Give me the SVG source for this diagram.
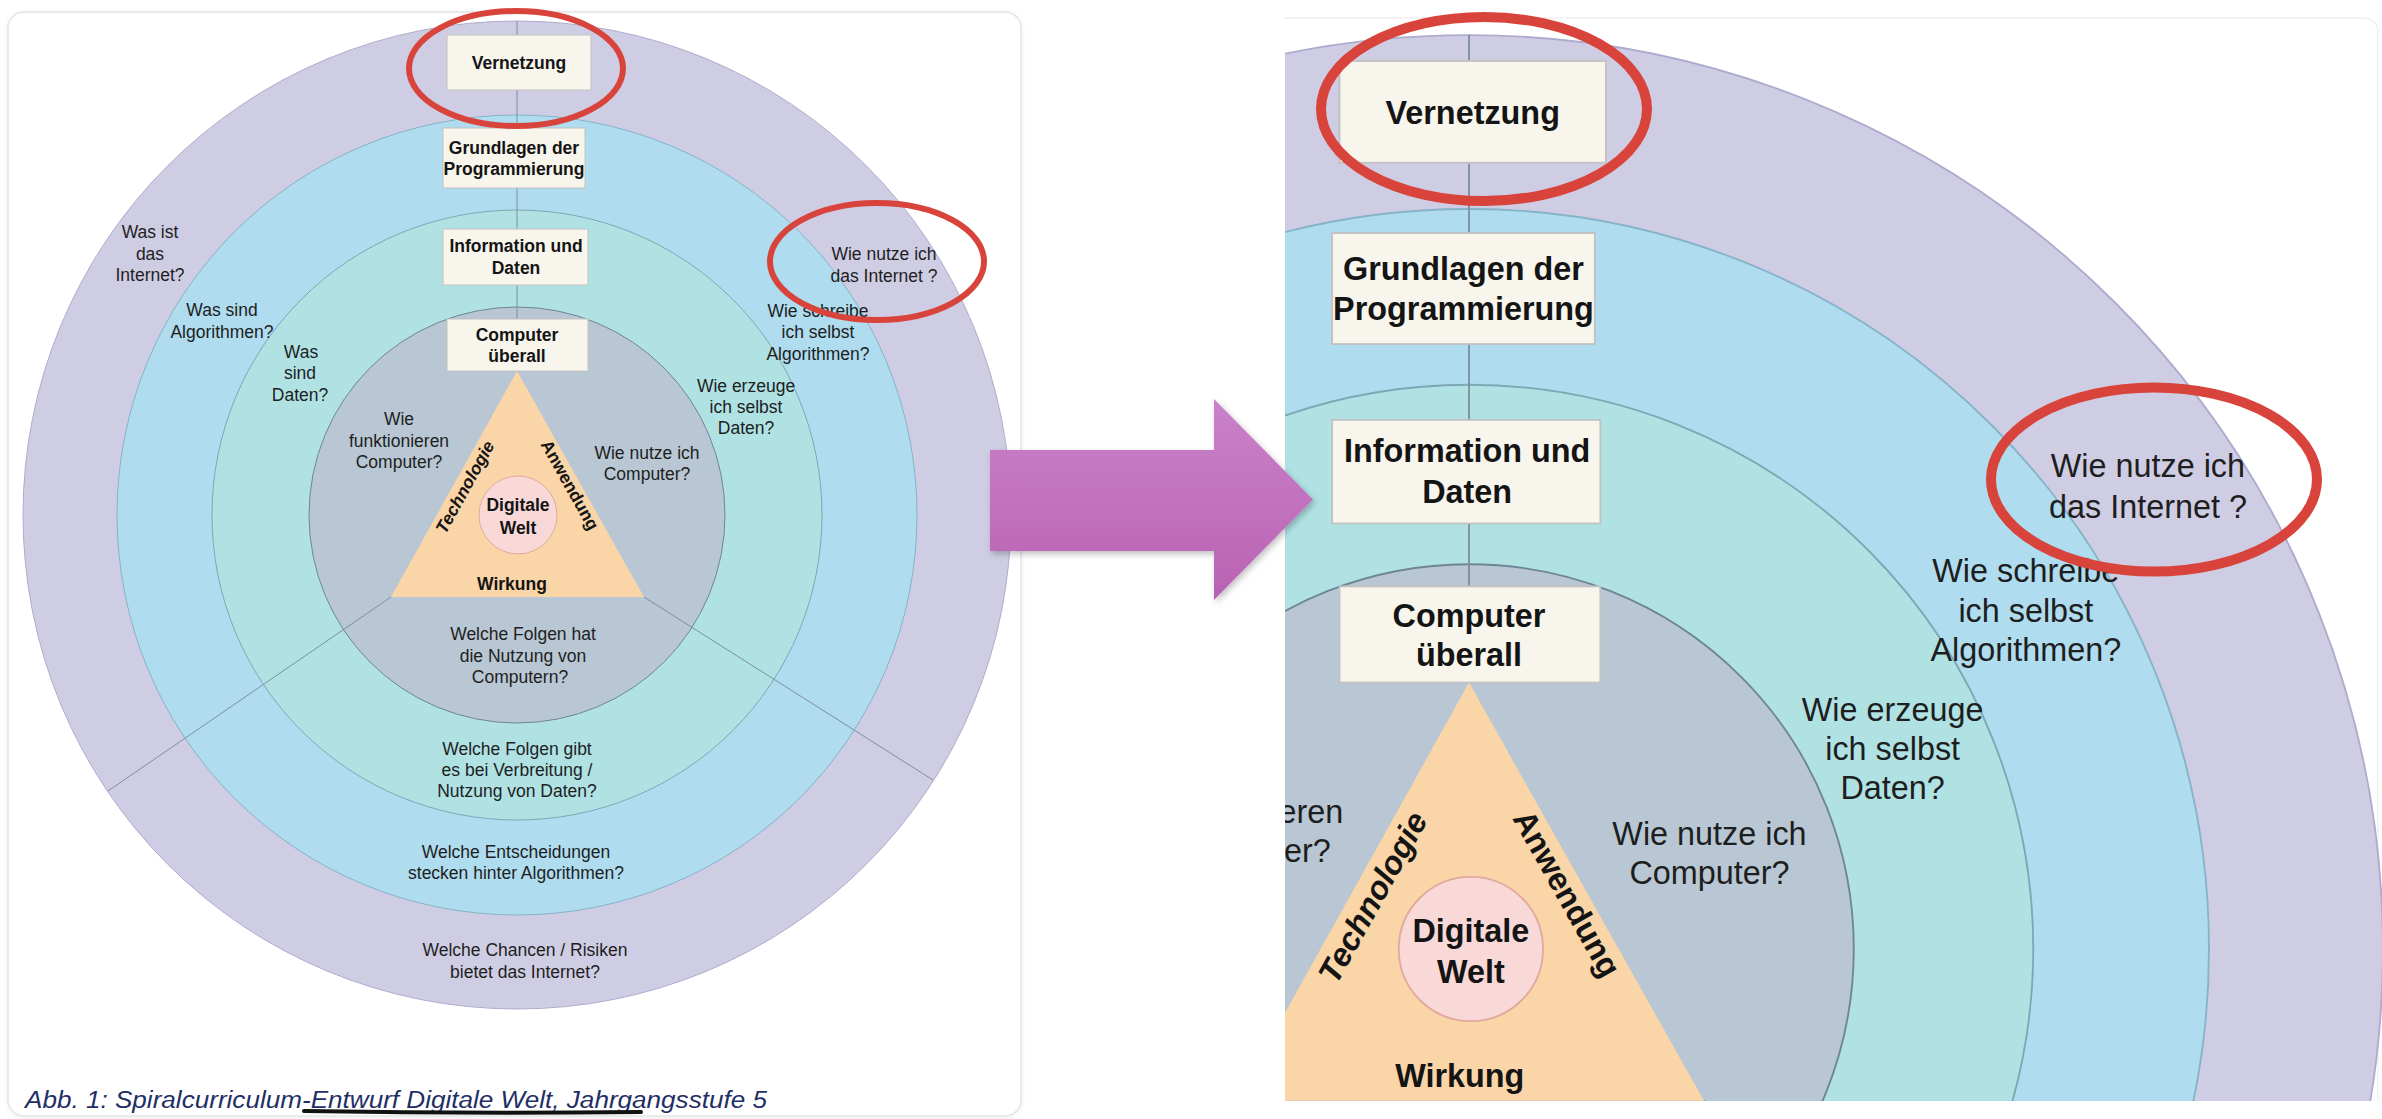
<svg xmlns="http://www.w3.org/2000/svg" xmlns:xlink="http://www.w3.org/1999/xlink" width="2382" height="1119" viewBox="0 0 2382 1119">
<style>
.lbl{font-family:"Liberation Sans",Arial,Helvetica,sans-serif;font-size:17.5px;font-weight:bold;text-anchor:middle;fill:#141414}
.q{font-family:"Liberation Sans",Arial,Helvetica,sans-serif;font-size:17.5px;text-anchor:middle;fill:#1e1e1e}
.box{fill:#f8f5ec;stroke:#c2c2c2;stroke-width:1}
.conn{stroke:#7f8ea2;stroke-width:1;fill:none}
.hl{fill:none;stroke:#d8443b}
.cap{font-family:"Liberation Sans",Arial,Helvetica,sans-serif;font-size:23px;font-style:italic;fill:#1f2f66}
</style>
<defs>
<linearGradient id="arrowGrad" x1="0" y1="0" x2="0" y2="1">
<stop offset="0" stop-color="#ca82c9"/>
<stop offset="1" stop-color="#b962b3"/>
</linearGradient>
<filter id="shadow" x="-10%" y="-10%" width="130%" height="130%">
<feDropShadow dx="2" dy="3" stdDeviation="3" flood-color="#000" flood-opacity="0.25"/>
</filter>
<filter id="cardShadow" x="-5%" y="-5%" width="110%" height="110%">
<feDropShadow dx="0" dy="1" stdDeviation="2" flood-color="#000" flood-opacity="0.08"/>
</filter>
<clipPath id="clipR"><rect x="1285" y="18" width="1097" height="1083"/></clipPath>
</defs>

<rect width="2382" height="1119" fill="#ffffff"/>

<!-- left card -->
<rect id="card-left" x="8" y="12" width="1013" height="1104" rx="16" fill="#ffffff" stroke="#e4e4e4" stroke-width="1.5" filter="url(#cardShadow)"/>
<!-- right card (faint top edge) -->
<path id="card-right" d="M1285,18 H2362 Q2378,18 2378,34 V1101" fill="none" stroke="#f0f0f0" stroke-width="1.5"/>

<g id="diag">
  <g id="ring-outer"><circle cx="517" cy="515" r="494" fill="#cfcde3" stroke="#aeaccd" stroke-width="1"/></g>
  <g id="ring-blue"><circle cx="517" cy="515" r="400" fill="#afdcee" stroke="#86b3c8" stroke-width="1"/></g>
  <g id="ring-teal"><circle cx="517" cy="515" r="305" fill="#b0e2e4" stroke="#7ea7b4" stroke-width="1"/></g>
  <g id="ring-gray"><circle cx="517" cy="515" r="208" fill="#b8c7d3" stroke="#6f8597" stroke-width="1"/></g>

  <g id="connectors">
    <line class="conn" x1="517" y1="21" x2="517" y2="319"/>
    <line class="conn" x1="391" y1="597" x2="108" y2="791"/>
    <line class="conn" x1="644" y1="597" x2="933" y2="780"/>
  </g>

  <g id="node-triangle">
    <polygon points="517,371 391,597 644,597" fill="#f9d5a7"/>
    <text class="lbl" transform="translate(465,487) rotate(-61)" x="0" y="6" font-style="italic">Technologie</text>
    <text class="lbl" transform="translate(570,485) rotate(60.7)" x="0" y="6">Anwendung</text>
    <text class="lbl" x="512" y="589.5">Wirkung</text>
  </g>
  <g id="node-digitale-welt">
    <circle cx="518" cy="515" r="39" fill="#f8d9d8" stroke="#e2a99e" stroke-width="1"/>
    <text class="lbl" x="518" y="511">Digitale</text>
    <text class="lbl" x="518" y="533.5">Welt</text>
  </g>

  <g id="node-vernetzung">
    <rect class="box" x="447" y="35" width="144" height="55"/>
    <text class="lbl" x="519" y="69">Vernetzung</text>
  </g>
  <g id="node-grundlagen">
    <rect class="box" x="443" y="128" width="142" height="60"/>
    <text class="lbl" x="514" y="153.5">Grundlagen der</text>
    <text class="lbl" x="514" y="175">Programmierung</text>
  </g>
  <g id="node-information">
    <rect class="box" x="443" y="229" width="145" height="56"/>
    <text class="lbl" x="516" y="252">Information und</text>
    <text class="lbl" x="516" y="274">Daten</text>
  </g>
  <g id="node-computer">
    <rect class="box" x="447" y="319" width="141" height="52"/>
    <text class="lbl" x="517" y="341">Computer</text>
    <text class="lbl" x="517" y="362">überall</text>
  </g>

  <g id="q-was-internet">
    <text class="q" x="150" y="238">Was ist</text>
    <text class="q" x="150" y="259.5">das</text>
    <text class="q" x="150" y="281">Internet?</text>
  </g>
  <g id="q-was-algorithmen">
    <text class="q" x="222" y="316">Was sind</text>
    <text class="q" x="222" y="338">Algorithmen?</text>
  </g>
  <g id="q-was-daten">
    <text class="q" x="301" y="358">Was</text>
    <text class="q" x="300" y="379">sind</text>
    <text class="q" x="300" y="400.5">Daten?</text>
  </g>
  <g id="q-wie-internet">
    <text class="q" x="884" y="260">Wie nutze ich</text>
    <text class="q" x="884" y="282">das Internet ?</text>
  </g>
  <g id="q-wie-algorithmen">
    <text class="q" x="818" y="316.5">Wie schreibe</text>
    <text class="q" x="818" y="338">ich selbst</text>
    <text class="q" x="818" y="359.5">Algorithmen?</text>
  </g>
  <g id="q-wie-daten">
    <text class="q" x="746" y="391.5">Wie erzeuge</text>
    <text class="q" x="746" y="413">ich selbst</text>
    <text class="q" x="746" y="434">Daten?</text>
  </g>
  <g id="q-wie-funktionieren">
    <text class="q" x="399" y="425">Wie</text>
    <text class="q" x="399" y="447">funktionieren</text>
    <text class="q" x="399" y="468">Computer?</text>
  </g>
  <g id="q-wie-computer">
    <text class="q" x="647" y="459">Wie nutze ich</text>
    <text class="q" x="647" y="480">Computer?</text>
  </g>
  <g id="q-folgen-computer">
    <text class="q" x="523" y="640">Welche Folgen hat</text>
    <text class="q" x="523" y="661.5">die Nutzung von</text>
    <text class="q" x="520" y="682.5">Computern?</text>
  </g>
  <g id="q-folgen-daten">
    <text class="q" x="517" y="754.5">Welche Folgen gibt</text>
    <text class="q" x="517" y="776">es bei Verbreitung /</text>
    <text class="q" x="517" y="797">Nutzung von Daten?</text>
  </g>
  <g id="q-entscheidungen">
    <text class="q" x="516" y="858">Welche Entscheidungen</text>
    <text class="q" x="516" y="879">stecken hinter Algorithmen?</text>
  </g>
  <g id="q-chancen">
    <text class="q" x="525" y="956">Welche Chancen / Risiken</text>
    <text class="q" x="525" y="978">bietet das Internet?</text>
  </g>
</g>

<!-- left highlights -->
<g id="highlights-left">
  <ellipse class="hl" cx="516" cy="68.5" rx="107" ry="57.5" stroke-width="6"/>
  <ellipse class="hl" cx="877" cy="261.5" rx="107" ry="58.5" stroke-width="6"/>
</g>

<!-- caption -->
<g id="caption">
  <text class="cap" x="25" y="1108" textLength="742" lengthAdjust="spacingAndGlyphs">Abb. 1: Spiralcurriculum-Entwurf Digitale Welt, Jahrgangsstufe 5</text>
  <path d="M304,1111 Q470,1114 641,1112" fill="none" stroke="#111" stroke-width="4" stroke-linecap="round"/>
</g>

<!-- right magnified view -->
<g id="zoom-view" clip-path="url(#clipR)">
  <use xlink:href="#diag" href="#diag" transform="translate(512.55,-3.75) scale(1.85)"/>
</g>
<g id="highlights-right">
  <ellipse class="hl" cx="1484" cy="109" rx="163" ry="92" stroke-width="10"/>
  <ellipse class="hl" cx="2154" cy="479.5" rx="163" ry="92" stroke-width="10"/>
</g>

<!-- arrow -->
<g id="arrow">
  <polygon points="990,450 1214,450 1214,399 1313,499.5 1214,600 1214,551 990,551" fill="url(#arrowGrad)" filter="url(#shadow)"/>
</g>
</svg>
